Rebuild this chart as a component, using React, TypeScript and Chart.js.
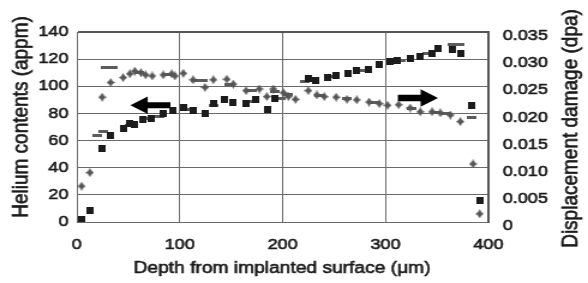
import React, { useEffect, useRef } from "react";
import { Chart, registerables } from "chart.js";

Chart.register(...registerables);

// ---- Data ----
// Helium contents (appm), square markers, left axis
const heDepth = [4.6, 12.3, 24, 32.8, 45, 51.6, 56.4, 64.5, 72.7, 84, 92.8, 103.5, 113, 124.6, 132.7, 144, 152, 164.5, 173.2, 185.2, 192.7, 225, 232.6, 244, 252, 264, 272, 283.5, 293.3, 304, 311, 324, 333.8, 345, 351.6, 364.6, 372.7, 384, 391.5];
const heValue = [2.2, 8.6, 54, 63.4, 69, 72.7, 72, 75.7, 76.4, 79.6, 82.5, 84.5, 82.5, 80.1, 87.5, 90.6, 88.2, 87.5, 90.6, 83, 91.1, 105.4, 104.1, 106.6, 108, 109.5, 111.3, 112.5, 115.7, 118.1, 118.8, 120.6, 122.3, 123.8, 127.5, 127.2, 124.3, 86.2, 15.5];
// Helium contents, dash markers (second profile), left axis
const heDashDepth = [20, 26, 51, 68, 80, 108, 133, 168, 198, 221, 246, 275, 315, 341, 365, 372];
const heDashValue = [64, 66.5, 71, 76, 78, 83, 86, 89, 91, 103.5, 107.5, 112, 119, 124, 130.5, 130.5];
// Displacement damage (dpa), diamond markers, right axis
const dpaDepth = [4.6, 12.7, 24.6, 32.8, 45, 51.6, 56.4, 62.3, 66.8, 73.3, 84, 92.2, 95.4, 103.5, 113, 124.6, 132.7, 145.7, 152, 164.5, 177.4, 184.6, 191, 200.8, 205.6, 212.5, 225, 233.3, 240.5, 252, 262.5, 272, 284, 294, 302, 312.7, 324, 333.8, 345.2, 353.3, 363, 372.7, 385, 391.5];
const dpaValue = [0.0066, 0.0091, 0.023, 0.0257, 0.0266, 0.0273, 0.0278, 0.0275, 0.0271, 0.0269, 0.0271, 0.0273, 0.0269, 0.0274, 0.0262, 0.0248, 0.0262, 0.0263, 0.0254, 0.0242, 0.0245, 0.0231, 0.0245, 0.0238, 0.0231, 0.0226, 0.0242, 0.0234, 0.0231, 0.023, 0.0226, 0.0225, 0.0221, 0.0218, 0.0215, 0.0216, 0.021, 0.0203, 0.0203, 0.0201, 0.0197, 0.0185, 0.0107, 0.0015];
// Displacement damage, dash markers (second profile), right axis
const dpaDashDepth = [28, 35, 61, 88, 116, 122, 148, 170, 192, 205, 235, 262, 290, 325, 350, 358, 383.5];
const dpaDashValue = [0.0285, 0.0285, 0.0275, 0.0271, 0.026, 0.026, 0.0254, 0.0243, 0.024, 0.0235, 0.0233, 0.0228, 0.022, 0.0209, 0.0201, 0.02, 0.0193];

// Arrows pointing to the axis each profile belongs to
const heArrow = { from: 91, to: 52, y: 86 };
const dpaArrow = { from: 312, to: 351, y: 0.02285 };

const xTitle = "Depth from implanted surface (\u03bcm)";
const yTitle = "Helium contents (appm)";
const y1Title = "Displacement damage (dpa)";

const FONT = '"Liberation Sans", Arial, Helvetica, sans-serif';
const TEXT = "#1a1a1a";
const GRID = "#6a6a6a";

function makeSquare(): HTMLCanvasElement {
  const c = document.createElement("canvas");
  c.width = 6; c.height = 7;
  const g = c.getContext("2d")!;
  g.fillStyle = "#1c1c1c";
  g.fillRect(0, 0, 6, 7);
  return c;
}
function makeDiamond(): HTMLCanvasElement {
  const w = 7, h = 9;
  const c = document.createElement("canvas");
  c.width = w; c.height = h;
  const g = c.getContext("2d")!;
  const cx = w / 2, cy = h / 2;
  const k = 0.35;
  g.fillStyle = "#555555";
  g.beginPath();
  g.moveTo(cx, 0);
  g.quadraticCurveTo(cx + (w / 4) * (1 - k), cy - (h / 4) * (1 - k), w, cy);
  g.quadraticCurveTo(cx + (w / 4) * (1 - k), cy + (h / 4) * (1 - k), cx, h);
  g.quadraticCurveTo(cx - (w / 4) * (1 - k), cy + (h / 4) * (1 - k), 0, cy);
  g.quadraticCurveTo(cx - (w / 4) * (1 - k), cy - (h / 4) * (1 - k), cx, 0);
  g.closePath();
  g.fill();
  return c;
}
function makeDash(): HTMLCanvasElement {
  const c = document.createElement("canvas");
  c.width = 8; c.height = 3;
  const g = c.getContext("2d")!;
  g.fillStyle = "#5c5c5c";
  g.fillRect(0, 0, 8, 3);
  return c;
}

function pts(xs: number[], ys: number[]) {
  return xs.map((x, i) => ({ x, y: ys[i] }));
}

const extrasPlugin = {
  id: "extras",
  afterDatasetsDraw(chart: any) {
    const { ctx, chartArea, scales } = chart;
    const drawArrow = (xTip: number, xTail: number, y: number, shaftHalf: number) => {
      const dir = xTip < xTail ? -1 : 1;
      const headLen = 14.5;
      const headHalf = 8.7;
      const base = xTip - dir * headLen;
      ctx.beginPath();
      ctx.moveTo(xTail, y - shaftHalf);
      ctx.lineTo(base, y - shaftHalf);
      ctx.lineTo(base, y - headHalf);
      ctx.lineTo(xTip, y);
      ctx.lineTo(base, y + headHalf);
      ctx.lineTo(base, y + shaftHalf);
      ctx.lineTo(xTail, y + shaftHalf);
      ctx.closePath();
      ctx.fill();
    };
    ctx.save();
    ctx.fillStyle = "#000";
    drawArrow(scales.x.getPixelForValue(heArrow.to), scales.x.getPixelForValue(heArrow.from), scales.y.getPixelForValue(heArrow.y), 3);
    drawArrow(scales.x.getPixelForValue(dpaArrow.to), scales.x.getPixelForValue(dpaArrow.from), scales.y1.getPixelForValue(dpaArrow.y), 3.3);
    ctx.restore();

    ctx.save();
    ctx.fillStyle = TEXT;
    ctx.strokeStyle = TEXT;
    ctx.lineWidth = 0.6;
    ctx.textAlign = "center";
    ctx.textBaseline = "middle";
    ctx.font = `19px ${FONT}`;
    ctx.save();
    ctx.translate(chartArea.left - 46.5, chartArea.top + 85);
    ctx.rotate(-Math.PI / 2);
    ctx.fillText(yTitle, 0, 0);
    ctx.strokeText(yTitle, 0, 0);
    ctx.restore();
    ctx.save();
    ctx.translate(chartArea.right + 68.5, chartArea.top + 96.5);
    ctx.rotate(-Math.PI / 2);
    ctx.fillText(y1Title, 0, 0);
    ctx.strokeText(y1Title, 0, 0);
    ctx.restore();
    ctx.font = `16px ${FONT}`;
    const cx = (chartArea.left + chartArea.right) / 2 - 0.5;
    ctx.fillText(xTitle, cx, chartArea.bottom + 47);
    ctx.strokeText(xTitle, cx, chartArea.bottom + 47);
    ctx.restore();
  },
};

const tickFont = { family: FONT, size: 15 };

export default function App() {
  const ref = useRef<HTMLCanvasElement>(null);
  useEffect(() => {
    document.body.style.margin = "0";
    const canvas = ref.current!;
    const square = makeSquare();
    const diamond = makeDiamond();
    const dash = makeDash();
    const chart = new Chart(canvas, {
      type: "scatter",
      data: {
        datasets: [
          { label: "He", data: pts(heDepth, heValue), yAxisID: "y", pointStyle: square as any, pointRadius: 4, backgroundColor: "#1c1c1c", borderColor: "#1c1c1c" },
          { label: "He2", data: pts(heDashDepth, heDashValue), yAxisID: "y", pointStyle: dash as any, pointRadius: 4, backgroundColor: "#5c5c5c", borderColor: "#5c5c5c" },
          { label: "dpa", data: pts(dpaDepth, dpaValue), yAxisID: "y1", pointStyle: diamond as any, pointRadius: 4, backgroundColor: "#555", borderColor: "#555" },
          { label: "dpa2", data: pts(dpaDashDepth, dpaDashValue), yAxisID: "y1", pointStyle: dash as any, pointRadius: 4, backgroundColor: "#5c5c5c", borderColor: "#5c5c5c" },
        ],
      },
      options: {
        responsive: false,
        devicePixelRatio: 1,
        animation: false,
        events: [],
        layout: { padding: { top: 32, left: 0, right: 0, bottom: 0 } },
        plugins: { legend: { display: false }, tooltip: { enabled: false } },
        scales: {
          x: {
            type: "linear",
            min: 0,
            max: 400,
            afterFit: (s: any) => { s.height = 61; },
            ticks: { stepSize: 100, padding: 14, color: TEXT, font: tickFont, textStrokeColor: TEXT, textStrokeWidth: 0.6 },
            grid: { color: GRID, lineWidth: 1, drawTicks: false },
            border: { display: true, color: GRID, width: 1 },
          },
          y: {
            type: "linear",
            position: "left",
            min: 0,
            max: 140,
            afterFit: (s: any) => { s.width = 64; },
            ticks: { stepSize: 20, padding: 7, color: TEXT, font: tickFont, textStrokeColor: TEXT, textStrokeWidth: 0.6 },
            grid: { color: (c: any) => (c.tick && c.tick.value === 140 ? "#555" : GRID), lineWidth: (c: any) => (c.tick && c.tick.value === 140 ? 2 : 1), drawTicks: false },
            border: { display: true, color: GRID, width: 1 },
          },
          y1: {
            type: "linear",
            position: "right",
            min: 0,
            max: 0.035,
            afterFit: (s: any) => { s.width = 83; },
            ticks: {
              stepSize: 0.005,
              padding: 12,
              labelOffset: 4,
              color: TEXT,
              font: tickFont,
              textStrokeColor: TEXT,
              textStrokeWidth: 0.6,
              callback: (v: any) => (Number(v) === 0 ? "0" : Number(v).toFixed(3)),
            },
            grid: { display: false, drawTicks: false },
            border: { display: true, color: "#555", width: 2 },
          },
        },
      },
      plugins: [extrasPlugin],
    } as any);
    return () => chart.destroy();
  }, []);
  return (
    <canvas
      ref={ref}
      width={490}
      height={283}
      style={{ position: "absolute", left: 0, top: 0, width: "588px", height: "283px", display: "block" }}
    />
  );
}
